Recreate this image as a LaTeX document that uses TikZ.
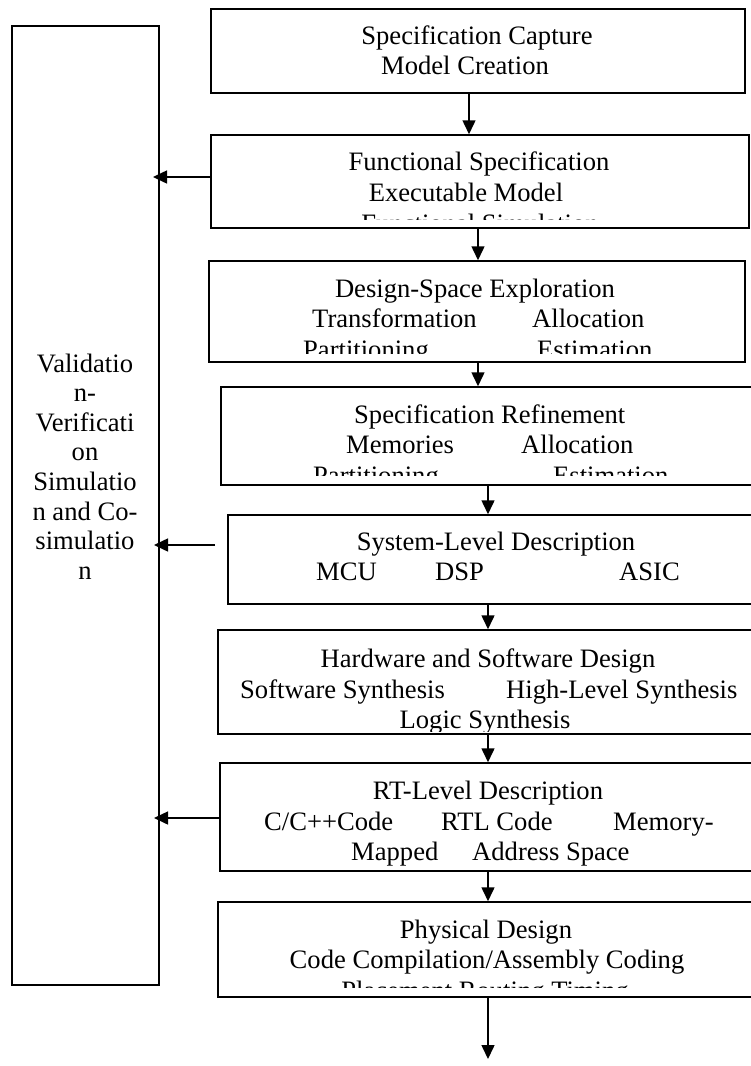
\documentclass[tikz,border=0pt]{standalone}
\usepackage{fontspec}
\setmainfont{Liberation Serif}
\usetikzlibrary{arrows.meta,fit}
\begin{document}
\begin{tikzpicture}[x=1pt,y=-1pt,
  box/.style={draw, line width=1.5pt, inner sep=0pt},
  txt/.style={font=\fontsize{26.6pt}{30.6pt}\selectfont, inner sep=0pt, anchor=base},
  txtl/.style={txt, anchor=base west},
  arr/.style={line width=1.5pt, -{Triangle[length=14pt,width=13pt]}}]
\useasboundingbox (0,0) rectangle (751,1066);
\clip (0,0) rectangle (751,1066);

% validation column
\node[box, fit={(12,26) (159,985)}] (val) {};
\foreach \t [count=\i] in {Validatio, n-, Verificati, on, Simulatio, n and Co-, simulatio, n}
  \node[txt] (v\i) at (85, 372+29.6*\i-29.6) {\t};

% design flow boxes
\node[box, fit={(211,9) (745,93)}] (b1) {};
\node[box, fit={(211,135) (749,228)}] (b2) {};
\node[box, fit={(209,261) (745,362)}] (b3) {};
\node[box, fit={(221,387) (760,485)}] (b4) {};
\node[box, fit={(228,515) (760,604)}] (b5) {};
\node[box, fit={(218,630) (760,734)}] (b6) {};
\node[box, fit={(220,763) (760,871)}] (b7) {};
\node[box, fit={(218,902) (760,997)}] (b8) {};

% box texts (the last line of some boxes is cut by the box)
\node[txt] (t1a) at (477,44) {Specification Capture};
\node[txt] (t1b) at (465,74) {Model Creation};

\begin{scope}
\clip (b2.north west) rectangle ([yshift=9pt]b2.south east);
\node[txt] (t2a) at (479,170) {Functional Specification};
\node[txt] (t2b) at (466,201) {Executable Model};
\node[txt] (t2c) at (480,232) {Functional Simulation};
\end{scope}

\begin{scope}
\clip (b3.north west) rectangle ([yshift=9pt]b3.south east);
\node[txt] (t3a) at (475,297) {Design-Space Exploration};
\node[txtl] (t3b) at (312,327) {Transformation};
\node[txtl] (t3c) at (532,327) {Allocation};
\node[txtl] (t3d) at (303,358) {Partitioning};
\node[txtl] (t3e) at (537,358) {Estimation};
\end{scope}

\begin{scope}
\clip (b4.north west) rectangle ([yshift=10pt]b4.south east);
\node[txtl] (t4a) at (354,423) {Specification Refinement};
\node[txtl] (t4b) at (346,453) {Memories};
\node[txtl] (t4c) at (521,453) {Allocation};
\node[txtl] (t4d) at (313,484) {Partitioning};
\node[txtl] (t4e) at (553,484) {Estimation};
\end{scope}

\node[txt] (t5a) at (496,550) {System-Level Description};
\node[txtl] (t5b) at (316,580) {MCU};
\node[txtl] (t5c) at (435,580) {DSP};
\node[txtl] (t5d) at (619,580) {ASIC};

\begin{scope}
\clip (b6.north west) rectangle ([yshift=3pt]b6.south east);
\node[txt] (t6a) at (488,667) {Hardware and Software Design};
\node[txtl] (t6b) at (240,698) {Software Synthesis};
\node[txtl] (t6c) at (506,698) {High-Level Synthesis};
\node[txt] (t6d) at (485,728) {Logic Synthesis};
\end{scope}

\node[txt] (t7a) at (488,799) {RT-Level Description};
\node[txtl] (t7b) at (264,830) {C/C++Code};
\node[txtl] (t7c) at (441,830) {RTL Code};
\node[txtl] (t7d) at (613,830) {Memory-};
\node[txtl] (t7e) at (351,860) {Mapped};
\node[txtl] (t7f) at (472,860) {Address Space};

\begin{scope}
\clip (b8.north west) rectangle ([yshift=10pt]b8.south east);
\node[txt] (t8a) at (486,938) {Physical Design};
\node[txt] (t8b) at (487,968) {Code Compilation/Assembly Coding};
\node[txt] (t8c) at (485,999) {Placement Routing Timing};
\end{scope}

% flow arrows
\coordinate (c1) at (469,0);
\coordinate (c2) at (478,0);
\coordinate (c3) at (488,0);
\coordinate (out) at (488,1059);
\draw[arr] (b1.south -| c1) -- (b2.north -| c1);
\draw[arr] (b2.south -| c2) -- (b3.north -| c2);
\draw[arr] (b3.south -| c2) -- (b4.north -| c2);
\draw[arr] (b4.south -| c3) -- (b5.north -| c3);
\draw[arr] (b5.south -| c3) -- (b6.north -| c3);
\draw[arr] (b6.south -| c3) -- (b7.north -| c3);
\draw[arr] (b7.south -| c3) -- (b8.north -| c3);
\draw[arr] (b8.south -| c3) -- (out);

% feedback to validation
\coordinate (f1) at (153,177);
\coordinate (s2) at (215,545);
\coordinate (f2) at (154,545);
\coordinate (f3) at (154,818);
\draw[arr] (b2.west |- f1) -- (f1);
\draw[arr] (s2) -- (f2);
\draw[arr] (b7.west |- f3) -- (f3);
\end{tikzpicture}
\end{document}
